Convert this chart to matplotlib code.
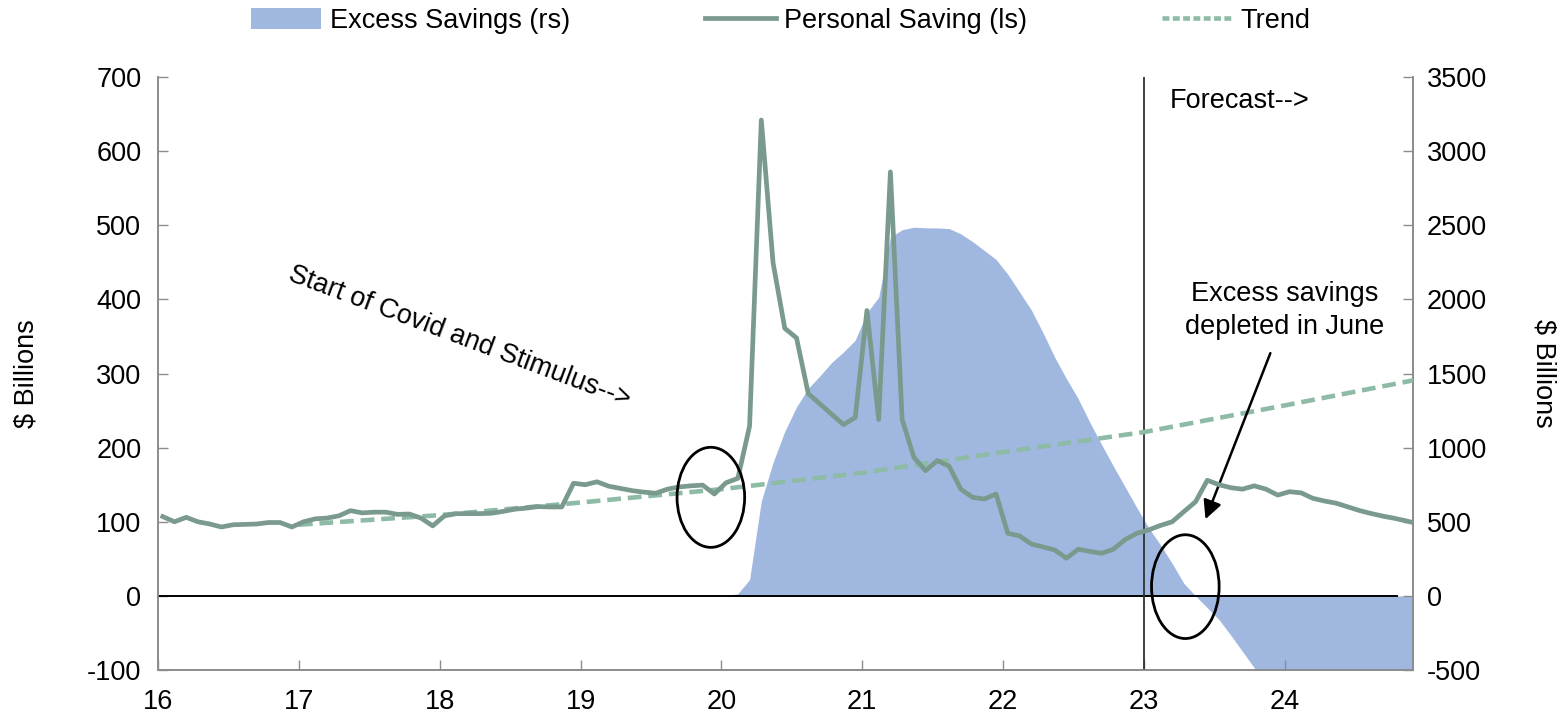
import matplotlib
matplotlib.use('agg')
import matplotlib.pyplot as plt
import numpy as np
from matplotlib.patches import Ellipse, Patch
from matplotlib.lines import Line2D

plt.rcParams['font.family'] = ['Liberation Sans', 'DejaVu Sans']
plt.rcParams['font.size'] = 19.5
plt.rcParams['axes.unicode_minus'] = False

# monthly data, Jan 2016 .. Dec 2024
personal_saving = [
    107, 100, 106, 100, 97, 93, 96, 96.5, 97, 99,
    99, 93, 100, 104, 105, 108, 115, 112, 113, 113,
    110, 110.5, 105, 94.5, 108, 111, 111, 111, 111.5, 114,
    117, 118.5, 120.5, 120, 120, 152, 150, 154, 148, 145,
    142, 140, 138.5, 144, 147, 148.5, 149.5, 137.5, 152.7, 158.6,
    229, 642, 449.5, 361, 348, 273, 259, 245, 231, 240.6,
    385, 238, 572, 238, 187, 169, 182.6, 175, 144, 133,
    130.7, 137.5, 84.5, 81, 70, 66, 62, 50.8, 63, 60,
    57.5, 63, 76, 84.5, 89, 95, 100, 113.6, 127, 156,
    150, 146, 144, 148.5, 144, 136, 140.6, 139, 131.6, 128,
    125, 120, 115, 111, 107.5, 104.5, 101, 97,
]

excess_savings = [0.0] * 48 + [
    0, 15, 110, 640, 900, 1110, 1275, 1400, 1485, 1575,
    1645, 1725, 1910, 2015, 2420, 2470, 2487, 2483, 2482, 2478,
    2442, 2390, 2330, 2270, 2170, 2050, 1930, 1775, 1610, 1465,
    1330, 1170, 1020, 875, 735, 595, 460, 345, 220, 85,
    0, -80, -160, -265, -375, -485, -600, -700, -800, -900,
    -1000, -1100, -1180, -1260, -1340, -1420, -1500, -1570, -1640, -1700,
]

trend_years = [17, 18, 19, 20, 21, 22, 23, 24, 24.917]
trend_values = [96, 109, 126, 144, 166, 194, 221, 257, 291]

year_ticks = [16, 17, 18, 19, 20, 21, 22, 23, 24]

months = np.arange(len(personal_saving))
x = 16 + (months + 0.4) / 12.0

c_area = '#A0B8E0'
c_line = '#7A9A8E'
c_trend = '#8DBBA6'
c_spine = '#8C8C8C'

fig = plt.figure(figsize=(15.68, 7.2), dpi=100)
ax = fig.add_axes([0.1008, 0.0694, 0.8003, 0.8236])
ax2 = ax.twinx()

ax2.fill_between(x, 0, excess_savings, color=c_area, linewidth=0)
ax2.set_ylim(-500, 3500)
ax2.set_yticks(np.arange(-500, 3501, 500))

ax.set_zorder(ax2.get_zorder() + 1)
ax.patch.set_visible(False)

ax.axhline(0, xmin=0, xmax=0.987, color='black', lw=1.4, zorder=2)
ax.axvline(23.0, color='#303030', lw=1.3, zorder=2)
ax.plot(trend_years, trend_values, '--', color=c_trend, lw=3.3, dashes=(3.0, 1.5), zorder=3)
ax.plot(x, personal_saving, '-', color=c_line, lw=3.4, zorder=4)

ax.set_xlim(16, 24.91)
ax.set_ylim(-100, 700)
ax.set_yticks(np.arange(-100, 701, 100))
ax.set_xticks(year_ticks)
ax.set_xticklabels([str(t) for t in year_ticks])

for a in (ax, ax2):
    a.spines['top'].set_visible(False)
    for s in ('left', 'right', 'bottom'):
        a.spines[s].set_color(c_spine)
        a.spines[s].set_linewidth(1.2)
    a.tick_params(direction='in', length=7, width=1.0, color=c_spine, labelsize=19.5)
ax.tick_params(axis='x', pad=14)
ax.tick_params(axis='y', pad=12)
ax2.tick_params(axis='y', pad=10)

ax.set_ylabel('$ Billions', labelpad=34)
ax2.set_ylabel('$ Billions', rotation=270, labelpad=50)

ax.add_patch(Ellipse((19.925, 133), 0.48, 135, fill=False, ec='black', lw=2.0, zorder=5))
ax.add_patch(Ellipse((23.294, 12.5), 0.48, 140, fill=False, ec='black', lw=2.0, zorder=5))

ax.annotate('', xy=(23.43, 100), xytext=(23.905, 331),
            arrowprops=dict(arrowstyle='-|>', color='black', lw=1.8, mutation_scale=28))

ax.text(23.18, 668, 'Forecast-->', ha='left', va='center')
ax.text(24.0, 385, 'Excess savings\ndepleted in June', ha='center', va='center', linespacing=1.35)
ax.text(18.14, 349, 'Start of Covid and Stimulus-->', ha='center', va='center',
        rotation=-20.5, rotation_mode='anchor')

handles = [Patch(facecolor=c_area, edgecolor='none'),
           Line2D([], [], color=c_line, lw=3.4),
           Line2D([], [], color=c_trend, lw=3.3, ls='--', dashes=(1.5, 0.75))]
labels = ['Excess Savings (rs)', 'Personal Saving (ls)', 'Trend']
fig.legend(handles, labels, loc='center', bbox_to_anchor=(0.498, 0.971), ncol=3,
           frameon=False, handlelength=2.6, handletextpad=0.3, columnspacing=5.0,
           handleheight=0.8)

fig.savefig('out.png', dpi=100)
